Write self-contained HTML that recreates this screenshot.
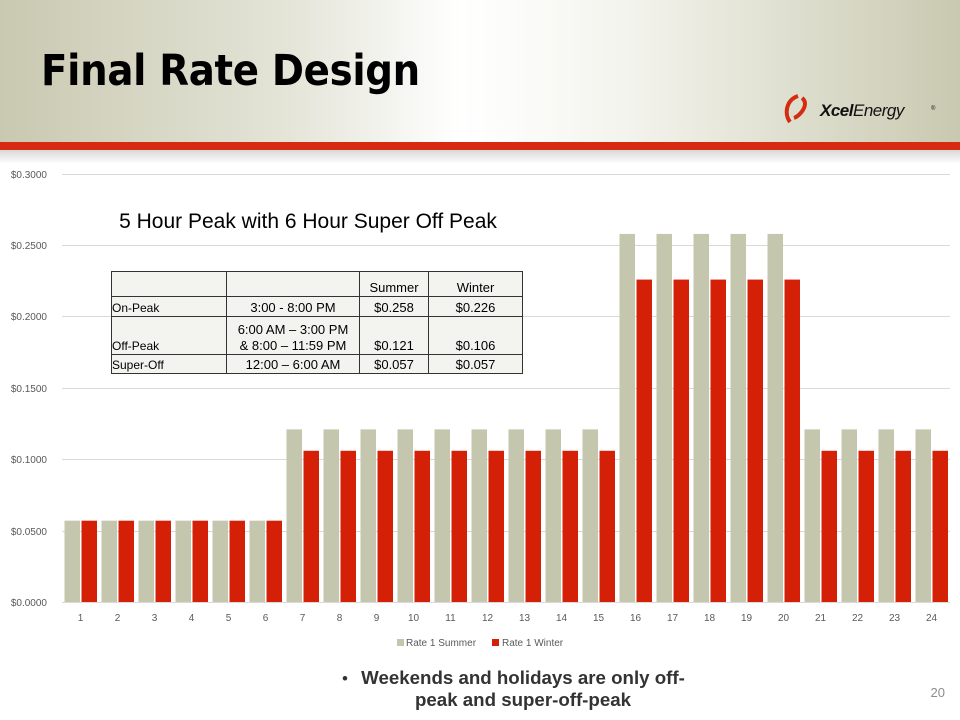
<!DOCTYPE html>
<html><head><meta charset="utf-8"><style>
body{margin:0;width:960px;height:720px;position:relative;overflow:hidden;background:#fff;font-family:"Liberation Sans",sans-serif}
.hdr{position:absolute;left:0;top:0;width:960px;height:142px;background:linear-gradient(90deg,#c9c9b1 0%,#e4e4d8 30%,#ffffff 48%,#f4f4ee 65%,#c9c9b1 100%)}
.red{position:absolute;left:0;top:142px;width:960px;height:8px;background:#d52b10}
.shadow{position:absolute;left:0;top:150px;width:960px;height:14px;background:linear-gradient(#d8d8d8,#fff)}
h1{position:absolute;left:41px;top:46px;margin:0;font:bold 43px "DejaVu Sans Condensed","Liberation Sans Narrow","Liberation Sans",sans-serif;letter-spacing:-0.3px;color:#000}
table{position:absolute;left:111px;top:271px;border-collapse:collapse;background:#f3f3ef;font-family:"Liberation Sans",sans-serif;font-size:13px}
td{border:1px solid #333;padding:0 2px;line-height:16px;vertical-align:bottom;text-align:center}
td.l{text-align:left;font-size:12px;padding:0}
</style></head><body>
<div class="hdr"></div><div class="red"></div><div class="shadow"></div>
<h1>Final Rate Design</h1>
<svg style="position:absolute;left:780px;top:90px" width="170" height="40">
<path d="M18 6 C6 10 4 24 10 32 M22 8 C30 14 20 26 14 28" stroke="#d52b10" stroke-width="4" fill="none"/>
<text x="40" y="26" font-family="Liberation Sans" font-style="italic" font-size="17" fill="#111" letter-spacing="-0.5"><tspan font-weight="bold">Xcel</tspan><tspan>Energy</tspan></text>
<text x="151" y="20" font-size="6" fill="#111">®</text>
</svg>
<svg style="position:absolute;left:0;top:0" width="960" height="720" font-family="Liberation Sans,sans-serif">
<g stroke="#d9d9d9" stroke-width="1">
<line x1="62" x2="950" y1="174.5" y2="174.5"/><line x1="62" x2="950" y1="245.5" y2="245.5"/>
<line x1="62" x2="950" y1="316.5" y2="316.5"/><line x1="62" x2="950" y1="388.5" y2="388.5"/>
<line x1="62" x2="950" y1="459.5" y2="459.5"/><line x1="62" x2="950" y1="531.5" y2="531.5"/>
<line x1="62" x2="950" y1="602.5" y2="602.5"/></g>
<g font-size="10" fill="#595959" text-anchor="end">
<text x="47" y="178">$0.3000</text><text x="47" y="249">$0.2500</text><text x="47" y="320">$0.2000</text>
<text x="47" y="392">$0.1500</text><text x="47" y="463">$0.1000</text><text x="47" y="535">$0.0500</text><text x="47" y="606">$0.0000</text></g>
<g id="bars"></g>
<text x="308" y="228" font-size="21" text-anchor="middle" fill="#000">5 Hour Peak with 6 Hour Super Off Peak</text>
<rect x="397" y="639" width="7" height="7" fill="#c5c6ae"/><text x="406" y="646" font-size="10" fill="#595959">Rate 1 Summer</text>
<rect x="492" y="639" width="7" height="7" fill="#d52008"/><text x="502" y="646" font-size="10" fill="#595959">Rate 1 Winter</text>
<text x="342" y="684" font-size="17" fill="#333">•</text>
<text x="523" y="684" font-size="18.7" font-weight="bold" fill="#333" text-anchor="middle">Weekends and holidays are only off-</text>
<text x="523" y="706" font-size="18.7" font-weight="bold" fill="#333" text-anchor="middle">peak and super-off-peak</text>
<text x="945" y="697" font-size="13" fill="#8c8c8c" text-anchor="end">20</text>
</svg>
<table>
<tr style="height:25px"><td class="l" style="width:114px"></td><td style="width:128px"></td><td style="width:64px">Summer</td><td style="width:89px">Winter</td></tr>
<tr style="height:20px"><td class="l">On-Peak</td><td>3:00 - 8:00 PM</td><td>$0.258</td><td>$0.226</td></tr>
<tr style="height:38px"><td class="l">Off-Peak</td><td>6:00 AM – 3:00 PM<br>&amp; 8:00 – 11:59 PM</td><td>$0.121</td><td>$0.106</td></tr>
<tr style="height:19px"><td class="l">Super-Off</td><td>12:00 – 6:00 AM</td><td>$0.057</td><td>$0.057</td></tr>
</table>
<script>
var g=document.getElementById('bars'),s='';
for(var i=0;i<24;i++){var h=i+1,su,wi;
if(h<=6){su=wi=0.057}else if(h>=16&&h<=20){su=0.258;wi=0.226}else{su=0.121;wi=0.106}
var x0=62+37*i,hs=su/0.3*428,hw=wi/0.3*428;
s+='<rect x="'+(x0+2.5)+'" y="'+(602-hs)+'" width="15.5" height="'+hs+'" fill="#c5c6ae"/>';
s+='<rect x="'+(x0+19.5)+'" y="'+(602-hw)+'" width="15.5" height="'+hw+'" fill="#d52008"/>';
s+='<text x="'+(x0+18.5)+'" y="621" font-size="10" fill="#595959" text-anchor="middle">'+h+'</text>';}
g.innerHTML=s;
</script>
</body></html>
